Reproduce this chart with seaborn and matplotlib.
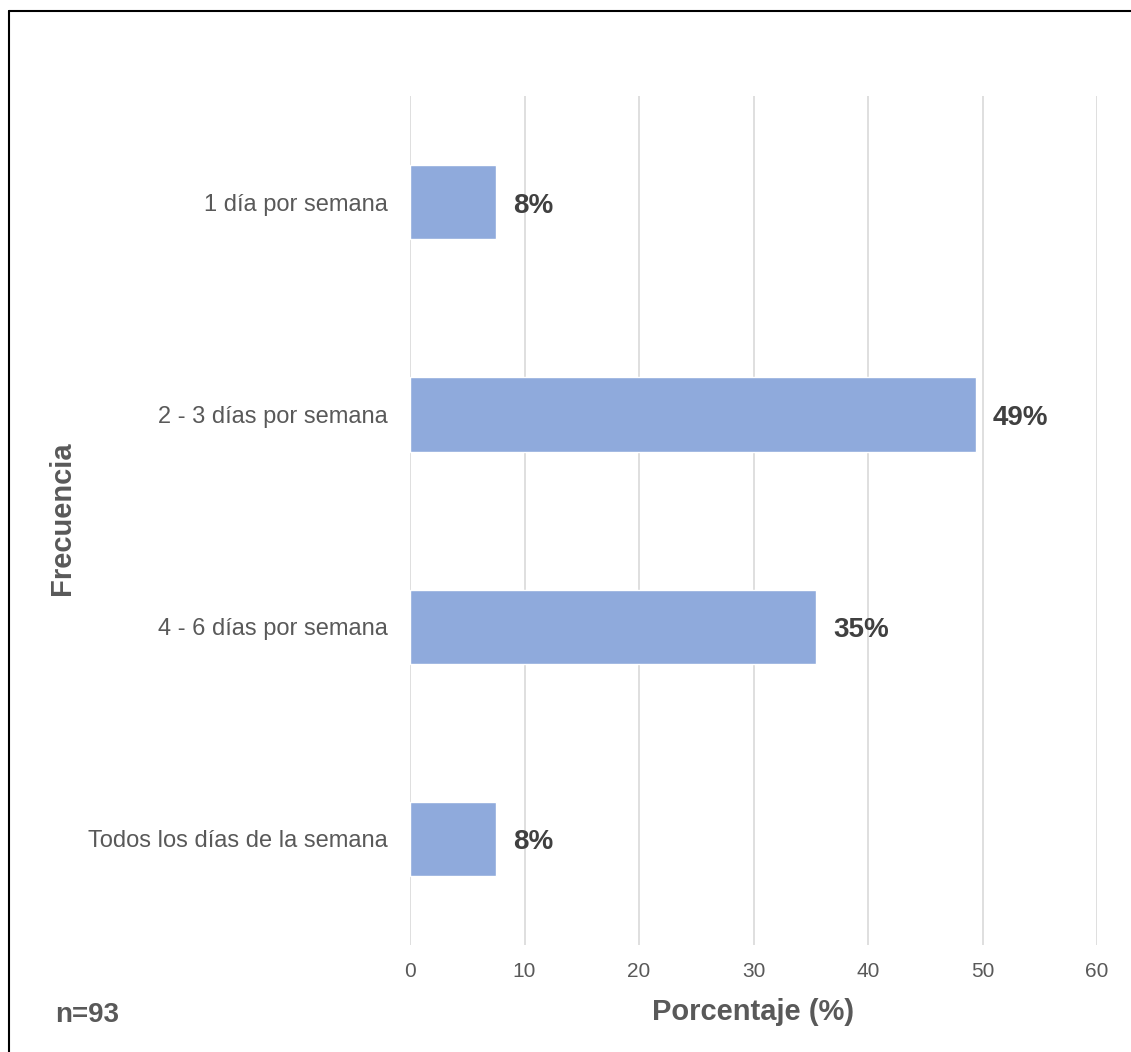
import matplotlib
matplotlib.use("Agg")
import matplotlib.pyplot as plt
import matplotlib.lines as mlines
import pandas as pd
import seaborn as sns

# respondents and answers (counts out of n=93)
CATEGORIES = [
    "1 día por semana",
    "2 - 3 días por semana",
    "4 - 6 días por semana",
    "Todos los días de la semana",
]
PERCENTS = [7.53, 49.46, 35.48, 7.53]
LABELS = ["8%", "49%", "35%", "8%"]
X_TICKS = [0, 10, 20, 30, 40, 50, 60]
N_TOTAL = 93

BAR_COLOR = "#8FAADC"
TEXT_GRAY = "#595959"
LABEL_DARK = "#404040"


def main():
    sns.set_style("white")
    plt.rcParams["font.family"] = ["Liberation Sans", "DejaVu Sans"]

    df = pd.DataFrame({"frecuencia": CATEGORIES, "porcentaje": PERCENTS})

    fig = plt.figure(figsize=(11.31, 10.52), dpi=100)
    ax = fig.add_axes([0.3625, 0.1017, 0.6075, 0.807])

    sns.barplot(data=df, x="porcentaje", y="frecuencia", color=BAR_COLOR,
                width=0.35, saturation=1, ax=ax, zorder=3)

    ax.set_xlim(0, 60)
    ax.set_ylim(3.5, -0.5)
    ax.set_xticks(X_TICKS)
    ax.set_xticklabels([str(t) for t in X_TICKS])
    ax.grid(axis="x", color="#D9D9D9", linewidth=1.2, zorder=0)
    ax.grid(axis="y", visible=False)
    for side in ax.spines.values():
        side.set_visible(False)
    ax.tick_params(axis="both", length=0, colors=TEXT_GRAY)
    ax.tick_params(axis="y", pad=16, labelsize=17)
    ax.tick_params(axis="x", pad=12, labelsize=15)

    for i, (val, lab) in enumerate(zip(PERCENTS, LABELS)):
        ax.annotate(lab, xy=(val, i), xytext=(12, -2.5), textcoords="offset points",
                    va="center", ha="left", fontsize=20, fontweight="bold",
                    color=LABEL_DARK)

    ax.set_xlabel("")
    ax.set_ylabel("")
    fig.text(0.6658, 0.038, "Porcentaje (%)", ha="center", va="center",
             fontsize=21, fontweight="bold", color=TEXT_GRAY)
    fig.text(0.0548, 0.5076, "Frecuencia", rotation=90, ha="center", va="center",
             fontsize=21, fontweight="bold", color=TEXT_GRAY)
    fig.text(0.0486, 0.035, f"n={N_TOTAL}", ha="left", va="center",
             fontsize=20, fontweight="bold", color=TEXT_GRAY)

    # frame of the screenshot (left and top edges)
    fig.add_artist(mlines.Line2D([0.008, 0.008], [0.0, 0.99], color="black",
                                 linewidth=1.5, transform=fig.transFigure))
    fig.add_artist(mlines.Line2D([0.008, 1.0], [0.99, 0.99], color="black",
                                 linewidth=1.5, transform=fig.transFigure))

    fig.savefig("out.png", dpi=100, facecolor="white")
    plt.close(fig)


if __name__ == "__main__":
    main()
